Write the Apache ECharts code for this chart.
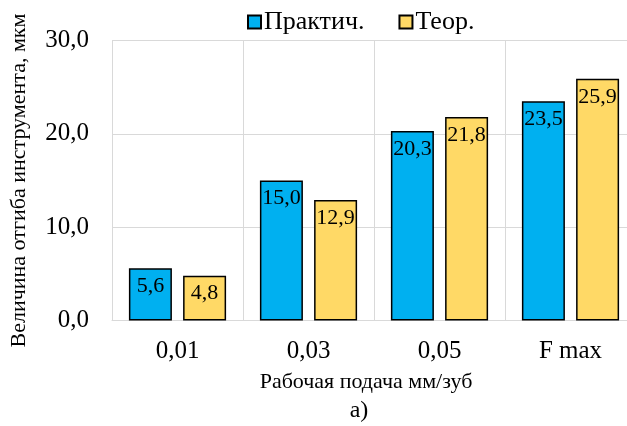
<!DOCTYPE html>
<html>
<head>
<meta charset="utf-8">
<script src="https://cdn.jsdelivr.net/npm/echarts@6/dist/echarts.min.js"></script>
<style>
  html, body { margin: 0; padding: 0; background: #fff; overflow: hidden; }
  #chart { width: 636px; height: 426px; }
</style>
</head>
<body>
<div id="chart"></div>
<script>
// Feed rates (categories) and tool deflection, µm
const categories = ['0,01', '0,03', '0,05', 'F max'];
const practical = [5.6, 15.0, 20.3, 23.5];
const theoretical = [4.8, 12.9, 21.8, 25.9];
const yTicks = [0, 10, 20, 30];

const serif = '"Liberation Serif", "Times New Roman", serif';
const fmt = v => v.toFixed(1).replace('.', ',');

const chart = echarts.init(document.getElementById('chart'), null, { renderer: 'canvas' });

const labelStyle = {
  show: true,
  position: 'insideTop',
  distance: 7,
  color: '#000',
  fontFamily: serif,
  fontSize: 22,
  formatter: p => fmt(p.value)
};

chart.setOption({
  animation: false,
  backgroundColor: '#fff',
  textStyle: { fontFamily: serif },
  legend: {
    top: 4,
    left: 242,
    itemWidth: 13,
    itemHeight: 13,
    itemGap: 34,
    icon: 'rect',
    textStyle: { fontFamily: serif, fontSize: 26, color: '#000', padding: [0, 0, 0, -2] },
    data: ['Практич.', 'Теор.']
  },
  grid: { left: 110, top: 40.5, right: 0, bottom: 105.5 },
  xAxis: {
    type: 'category',
    data: categories,
    name: 'Рабочая подача мм/зуб',
    nameLocation: 'middle',
    nameGap: 51,
    nameTextStyle: { fontFamily: serif, fontSize: 22, color: '#000', padding: [0, 16, 0, 0] },
    axisLine: { lineStyle: { color: '#d9d9d9', width: 1 } },
    axisTick: { show: false },
    axisLabel: { fontFamily: serif, fontSize: 25, color: '#000', margin: 18 },
    splitLine: { show: true, lineStyle: { color: '#d9d9d9', width: 1 } }
  },
  yAxis: {
    type: 'value',
    min: yTicks[0],
    max: yTicks[yTicks.length - 1],
    interval: 10,
    name: 'Величина отгиба инструмента, мкм',
    nameLocation: 'middle',
    nameGap: 82,
    nameTextStyle: { fontFamily: serif, fontSize: 22, color: '#000' },
    axisLine: { show: false },
    axisTick: { show: false },
    axisLabel: { fontFamily: serif, fontSize: 25, color: '#000', margin: 23, formatter: v => fmt(v) },
    splitLine: { lineStyle: { color: '#d9d9d9', width: 1 } }
  },
  series: [
    {
      name: 'Практич.',
      type: 'bar',
      data: practical,
      barWidth: 43,
      barGap: '26%',
      itemStyle: { color: '#00B0F0', borderColor: '#000', borderWidth: 1.5 },
      label: labelStyle
    },
    {
      name: 'Теор.',
      type: 'bar',
      data: theoretical,
      barWidth: 43,
      itemStyle: { color: '#FFD966', borderColor: '#000', borderWidth: 1.5 },
      label: labelStyle
    }
  ],
  graphic: [
    {
      type: 'text',
      x: 359,
      y: 411,
      style: { text: 'а)', font: '24px ' + serif, fill: '#000', align: 'center', verticalAlign: 'middle' }
    }
  ]
});
</script>
</body>
</html>
